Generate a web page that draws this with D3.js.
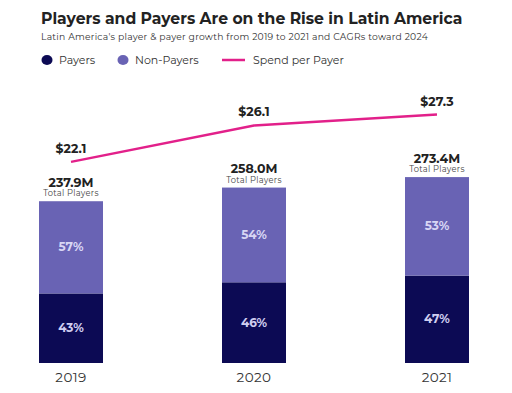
<!DOCTYPE html>
<html><head><meta charset="utf-8">
<script src="https://cdn.jsdelivr.net/npm/d3@7"></script>
<style>body{margin:0;background:#fff}svg{display:block}</style>
</head><body>
<svg id="c" width="512" height="393"></svg>
<script>
const years = ["2019","2020","2021"];
const totalPlayers = [237.9, 258.0, 273.4];
const payerShare = [43, 46, 47];
const nonPayerShare = [57, 54, 53];
const spendPerPayer = [22.1, 26.1, 27.3];
const totalLabels = ["237.9M","258.0M","273.4M"];
const spendLabels = ["$22.1","$26.1","$27.3"];

const colPayer = "#0c0a54", colNon = "#6963b4", colLine = "#e2208a";
const font = "Montserrat, Inter, 'Open Sans', sans-serif";
const svg = d3.select("#c");

svg.append("text").attr("x",41).attr("y",24).attr("font-family",font).attr("font-weight",700)
  .attr("font-size",15.6).attr("fill","#222").text("Players and Payers Are on the Rise in Latin America");
svg.append("text").attr("x",41).attr("y",40).attr("font-family",font)
  .attr("font-size",9.2).attr("letter-spacing",0.25).attr("fill","#333").text("Latin America's player & payer growth from 2019 to 2021 and CAGRs toward 2024");

// legend
const lg = svg.append("g").attr("font-family",font).attr("font-size",11).attr("fill","#333");
lg.append("ellipse").attr("cx",47).attr("cy",60).attr("rx",5.5).attr("ry",5).attr("fill",colPayer);
lg.append("text").attr("x",59).attr("y",64).text("Payers");
lg.append("ellipse").attr("cx",123).attr("cy",60).attr("rx",5.5).attr("ry",5).attr("fill",colNon);
lg.append("text").attr("x",135).attr("y",64).text("Non-Payers");
lg.append("line").attr("x1",222).attr("x2",245).attr("y1",60).attr("y2",60).attr("stroke",colLine).attr("stroke-width",2.5);
lg.append("text").attr("x",253).attr("y",64).text("Spend per Payer");

const x = d3.scalePoint().domain(years).range([71,437]);
const barW = 64;
const y = d3.scaleLinear().domain([0,300]).range([363,159]);
const ys = d3.scaleLinear().domain([0,30]).range([363,90]);

const data = years.map((yr,i)=>({yr, total: totalPlayers[i], p: payerShare[i], n: nonPayerShare[i], s: spendPerPayer[i], tl: totalLabels[i], sl: spendLabels[i]}));

const g = svg.append("g");
data.forEach(d=>{
  const payersVal = d.total*d.p/100;
  const cx = x(d.yr);
  g.append("rect").attr("x",cx-barW/2).attr("width",barW)
    .attr("y",y(payersVal)).attr("height",y(0)-y(payersVal)).attr("fill",colPayer);
  g.append("rect").attr("x",cx-barW/2).attr("width",barW)
    .attr("y",y(d.total)).attr("height",y(payersVal)-y(d.total)).attr("fill",colNon);
  g.append("text").attr("x",cx).attr("y",(y(payersVal)+y(0))/2+4).attr("text-anchor","middle")
    .attr("font-family",font).attr("font-weight",700).attr("font-size",12).attr("fill","#cfcdf0").text(d.p+"%");
  g.append("text").attr("x",cx).attr("y",(y(payersVal)+y(d.total))/2+4).attr("text-anchor","middle")
    .attr("font-family",font).attr("font-weight",700).attr("font-size",12).attr("fill","#d8d6f4").text(d.n+"%");
  g.append("text").attr("x",cx).attr("y",y(d.total)-14.5).attr("text-anchor","middle")
    .attr("font-family",font).attr("font-weight",700).attr("font-size",12.5).attr("fill","#222").text(d.tl);
  g.append("text").attr("x",cx).attr("y",y(d.total)-5).attr("text-anchor","middle")
    .attr("font-family",font).attr("font-size",8.3).attr("letter-spacing",0.3).attr("fill","#444").text("Total Players");
  g.append("text").attr("x",cx).attr("y",381.5).attr("text-anchor","middle")
    .attr("font-family",font).attr("font-size",13.5).attr("letter-spacing",0.4).attr("fill","#333").text(d.yr);
});

const line = d3.line().x(d=>x(d.yr)).y(d=>ys(d.s));
svg.append("path").datum(data).attr("d",line).attr("fill","none").attr("stroke",colLine).attr("stroke-width",2.5);
svg.selectAll(".sl").data(data).enter().append("text")
  .attr("x",d=>x(d.yr)).attr("y",d=>ys(d.s)-9).attr("text-anchor","middle")
  .attr("font-family",font).attr("font-weight",700).attr("font-size",12.5).attr("fill","#222").text(d=>d.sl);
</script>
</body></html>
